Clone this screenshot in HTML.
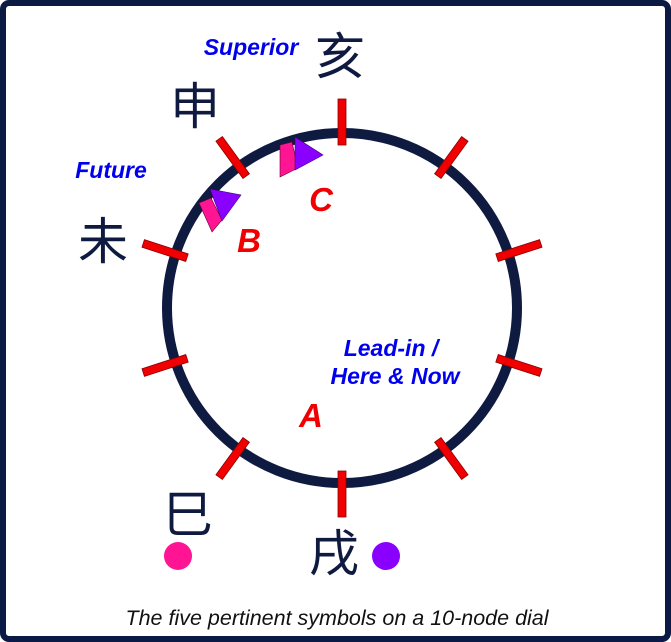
<!DOCTYPE html>
<html><head><meta charset="utf-8"><style>
html,body{margin:0;padding:0;background:#fff}
svg{display:block}
</style></head><body>
<svg width="671" height="642" viewBox="0 0 671 642">
<rect x="3" y="3" width="665" height="636" rx="6" fill="#fff" stroke="#0a1a45" stroke-width="6"/>
<circle cx="342" cy="308" r="175" fill="none" stroke="#0f1a40" stroke-width="10"/>
<g fill="#f00000" stroke="#8a0000" stroke-width="0.8">
<rect x="-4" y="-209" width="8" height="46" transform="translate(342,308) rotate(0)"/>
<rect x="-4" y="-209" width="8" height="46" transform="translate(342,308) rotate(36)"/>
<rect x="-4" y="-209" width="8" height="46" transform="translate(342,308) rotate(72)"/>
<rect x="-4" y="-209" width="8" height="46" transform="translate(342,308) rotate(108)"/>
<rect x="-4" y="-209" width="8" height="46" transform="translate(342,308) rotate(144)"/>
<rect x="-4" y="-209" width="8" height="46" transform="translate(342,308) rotate(180)"/>
<rect x="-4" y="-209" width="8" height="46" transform="translate(342,308) rotate(216)"/>
<rect x="-4" y="-209" width="8" height="46" transform="translate(342,308) rotate(252)"/>
<rect x="-4" y="-209" width="8" height="46" transform="translate(342,308) rotate(288)"/>
<rect x="-4" y="-209" width="8" height="46" transform="translate(342,308) rotate(324)"/>
</g>
<polygon points="280,145 292,142 298,168 280,177" fill="#ff1493" stroke="#600030" stroke-width="0.6"/>
<polygon points="295,137 323,155 295,170" fill="#8a00ff" stroke="#400070" stroke-width="0.6"/>
<polygon points="199,203 211,198 222,220 212,232" fill="#ff1493" stroke="#600030" stroke-width="0.6"/>
<polygon points="210,189 241,195 222,221" fill="#8a00ff" stroke="#400070" stroke-width="0.6"/>
<g font-family="'Liberation Sans','Noto Sans CJK SC',sans-serif" fill="#0f1a40" font-size="50" text-anchor="middle">
<text x="340" y="74">亥</text>
<text x="195" y="124">申</text>
<text x="103" y="259">未</text>
<text x="188" y="532">巳</text>
<text x="334" y="571">戌</text>
</g>
<circle cx="178" cy="556" r="14" fill="#ff1493"/>
<circle cx="386" cy="556" r="14" fill="#8a00ff"/>
<g font-family="'Liberation Sans',sans-serif" font-weight="bold" font-style="italic" fill="#0000ee" font-size="23" text-anchor="middle">
<text x="251" y="55">Superior</text>
<text x="111" y="178">Future</text>
<text x="391" y="356">Lead-in /</text>
<text x="395" y="384">Here &amp; Now</text>
</g>
<g font-family="'Liberation Sans',sans-serif" font-weight="bold" font-style="italic" fill="#f00000" font-size="33" text-anchor="middle">
<text x="321" y="211">C</text>
<text x="249" y="252">B</text>
<text x="311" y="427">A</text>
</g>
<text x="337" y="625" font-family="'Liberation Sans',sans-serif" font-style="italic" font-size="21.5" fill="#111" text-anchor="middle">The five pertinent symbols on a 10-node dial</text>
</svg>
</body></html>
